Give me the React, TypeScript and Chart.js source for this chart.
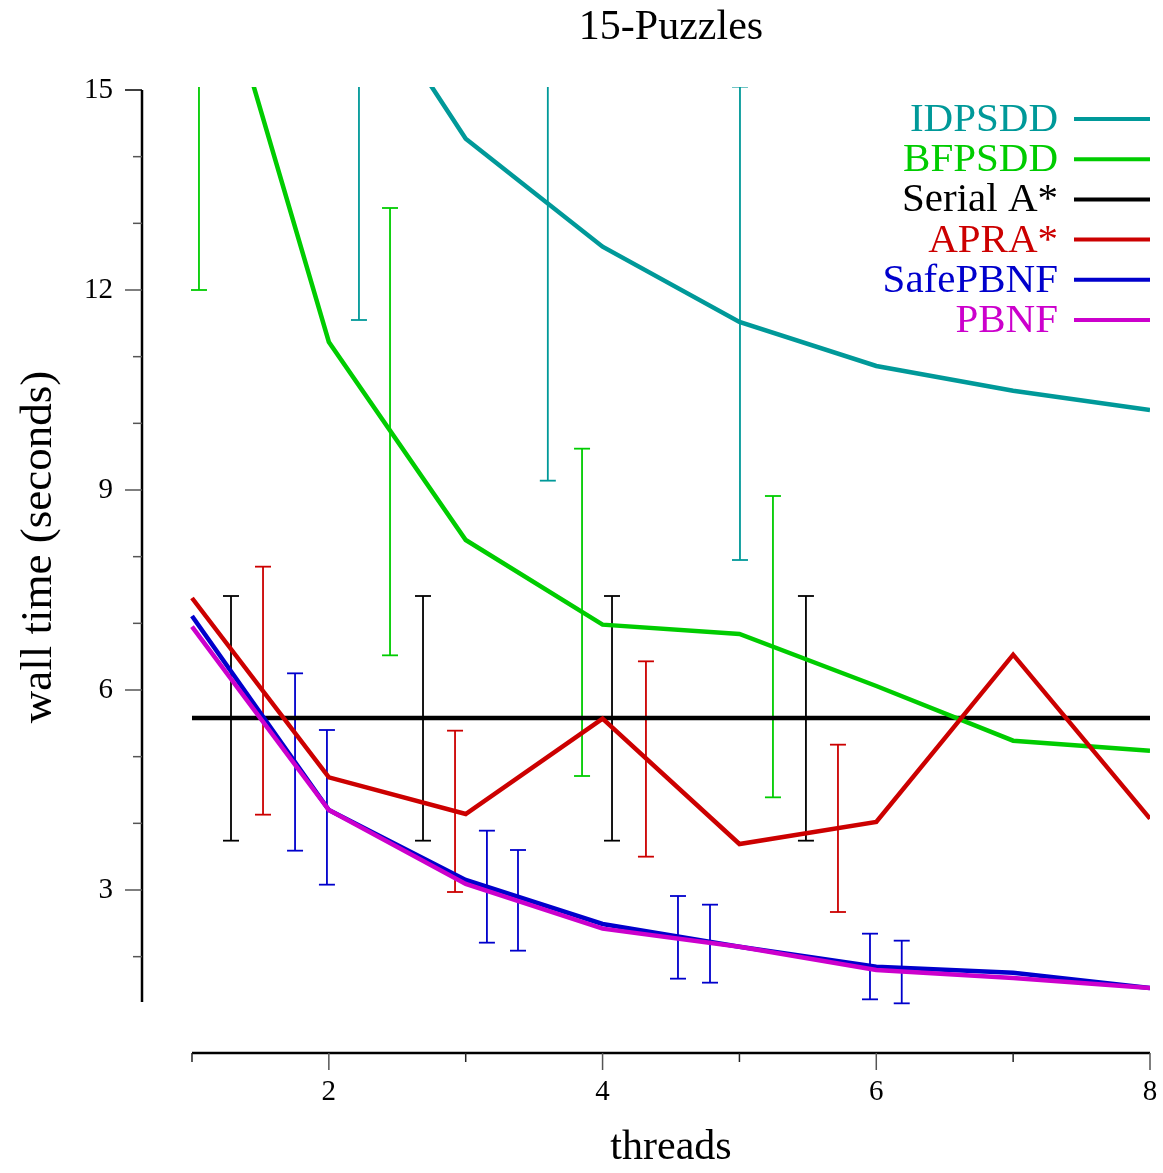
import React, { useEffect, useRef } from 'react';
import { Chart, registerables } from 'chart.js';

Chart.register(...registerables);

// ---------- data ----------
const chartTitle = '15-Puzzles';
const xTitle = 'threads';
const yTitle = 'wall time (seconds)';

const threads = [1, 2, 3, 4, 5, 6, 7, 8];
const idpsdd = [26, 17.4, 14.27, 12.65, 11.52, 10.86, 10.49, 10.2];
const bfpsdd = [18.2, 11.22, 8.25, 6.98, 6.84, 6.06, 5.24, 5.09];
const serialAStar = [5.58, 5.58, 5.58, 5.58, 5.58, 5.58, 5.58, 5.58];
const apraStar = [7.38, 4.69, 4.14, 5.57, 3.69, 4.02, 6.53, 4.07];
const safePbnf = [7.11, 4.2, 3.15, 2.49, 2.15, 1.85, 1.76, 1.53];
const pbnf = [6.95, 4.2, 3.09, 2.42, 2.15, 1.8, 1.68, 1.53];

// error bars: x position, low, high
const errBfX = [1.051, 2.447, 3.85, 5.245];
const errBfLo = [12.0, 6.52, 4.71, 4.39];
const errBfHi = [20, 13.23, 9.62, 8.91];

const errSerialX = [1.285, 2.688, 4.069, 5.486];
const errSerialLo = [3.74, 3.74, 3.74, 3.74];
const errSerialHi = [7.41, 7.41, 7.41, 7.41];

const errApraX = [1.519, 2.922, 4.317, 5.72];
const errApraLo = [4.13, 2.97, 3.5, 2.67];
const errApraHi = [7.85, 5.39, 6.43, 5.18];

const errSafeX = [1.753, 3.155, 4.551, 5.954];
const errSafeLo = [3.59, 2.21, 1.67, 1.36];
const errSafeHi = [6.25, 3.89, 2.91, 2.345];

const errPbnfX = [1.986, 3.382, 4.785, 6.186];
const errPbnfLo = [3.08, 2.09, 1.61, 1.3];
const errPbnfHi = [5.4, 3.6, 2.78, 2.24];

const errIdpX = [2.22, 3.6, 5.004];
const errIdpLo = [11.55, 9.14, 7.95];
const errIdpHi = [21, 17.5, 15.05];

const yTicks = [3, 6, 9, 12, 15];
const yMinorTicks = [2, 4, 5, 7, 8, 10, 11, 13, 14];
const xTicks = [2, 4, 6, 8];
const xMinorTicks = [1, 3, 5, 7];
const yAxisTop = 15;
const yAxisBottom = 1.32;

const legendOrder = ['IDPSDD', 'BFPSDD', 'Serial A*', 'APRA*', 'SafePBNF', 'PBNF'];

const C_TEAL = '#009999';
const C_GREEN = '#00cc00';
const C_BLACK = '#000000';
const C_RED = '#cc0000';
const C_BLUE = '#0000cc';
const C_MAGENTA = '#cc00cc';

const FONT = "'Liberation Serif', 'Times New Roman', serif";

function series(ys: number[]) {
  return threads.map((x, i) => ({ x, y: ys[i] }));
}

function errData(xs: number[], lo: number[], hi: number[]) {
  const out: any[] = [];
  xs.forEach((x, i) => {
    out.push({ x, y: lo[i] }, { x, y: hi[i] }, { x, y: null });
  });
  return out;
}

function lineDs(label: string, ys: number[], color: string, order: number) {
  return {
    label,
    data: series(ys),
    borderColor: color,
    backgroundColor: color,
    borderWidth: 4.5,
    pointRadius: 0,
    pointHoverRadius: 0,
    tension: 0,
    fill: false,
    order,
    isMain: true,
  };
}

function errDs(label: string, xs: number[], lo: number[], hi: number[], color: string) {
  return {
    label,
    data: errData(xs, lo, hi),
    borderColor: color,
    backgroundColor: color,
    borderWidth: 1.8,
    pointStyle: 'line',
    pointRadius: 8,
    pointHoverRadius: 8,
    pointBorderWidth: 1.8,
    pointBorderColor: color,
    spanGaps: false,
    tension: 0,
    fill: false,
    order: 100,
    isMain: false,
  };
}

const axesPlugin = {
  id: 'customAxes',
  beforeDatasetsDraw(chart: any) {
    const { ctx, scales } = chart;
    const xs = scales.x;
    const ys = scales.y;
    const ax = chart.chartArea.left;
    const ay = chart.chartArea.bottom;
    ctx.save();
    // y axis line
    ctx.strokeStyle = '#000';
    ctx.lineWidth = 2.5;
    ctx.beginPath();
    ctx.moveTo(ax, ys.getPixelForValue(yAxisTop));
    ctx.lineTo(ax, ys.getPixelForValue(yAxisBottom));
    ctx.stroke();
    // y ticks
    ctx.lineWidth = 1.5;
    yTicks.forEach((v) => {
      const p = ys.getPixelForValue(v);
      ctx.strokeStyle = v === yAxisTop ? '#000' : '#555';
      ctx.beginPath();
      ctx.moveTo(ax - 17, p);
      ctx.lineTo(ax, p);
      ctx.stroke();
    });
    ctx.strokeStyle = '#555';
    yMinorTicks.forEach((v) => {
      const p = ys.getPixelForValue(v);
      ctx.beginPath();
      ctx.moveTo(ax - 9, p);
      ctx.lineTo(ax, p);
      ctx.stroke();
    });
    // x axis line
    ctx.strokeStyle = '#000';
    ctx.lineWidth = 2.5;
    ctx.beginPath();
    ctx.moveTo(xs.getPixelForValue(1), ay);
    ctx.lineTo(xs.getPixelForValue(8), ay);
    ctx.stroke();
    ctx.lineWidth = 1.5;
    ctx.strokeStyle = '#555';
    xTicks.forEach((v) => {
      const p = xs.getPixelForValue(v);
      ctx.beginPath();
      ctx.moveTo(p, ay);
      ctx.lineTo(p, ay + 17);
      ctx.stroke();
    });
    ctx.strokeStyle = '#222';
    xMinorTicks.forEach((v) => {
      const p = xs.getPixelForValue(v);
      ctx.beginPath();
      ctx.moveTo(p, ay);
      ctx.lineTo(p, ay + 9);
      ctx.stroke();
    });
    ctx.restore();
  },
  afterDraw(chart: any) {
    const { ctx, scales } = chart;
    const xs = scales.x;
    const cx = (xs.getPixelForValue(1) + xs.getPixelForValue(8)) / 2;
    ctx.save();
    ctx.fillStyle = '#000';
    ctx.textAlign = 'center';
    ctx.textBaseline = 'alphabetic';
    // title
    ctx.font = `42px ${FONT}`;
    ctx.fillText(chartTitle, cx, 39);
    // x title
    ctx.font = `42px ${FONT}`;
    ctx.fillText(xTitle, cx, 1159);
    // y title
    ctx.save();
    ctx.translate(51, 547);
    ctx.rotate(-Math.PI / 2);
    ctx.font = `45px ${FONT}`;
    ctx.fillText(yTitle, 0, 0);
    ctx.restore();
    // legend
    ctx.font = `41px ${FONT}`;
    ctx.textAlign = 'right';
    legendOrder.forEach((label, i) => {
      const ds = chart.data.datasets.find((d: any) => d.isMain && d.label === label);
      if (!ds) return;
      const y = 119 + i * 40.2;
      ctx.fillStyle = ds.borderColor;
      ctx.fillText(label, 1058, y + 12);
      ctx.strokeStyle = ds.borderColor;
      ctx.lineWidth = 4;
      ctx.beginPath();
      ctx.moveTo(1074, y);
      ctx.lineTo(1150, y);
      ctx.stroke();
    });
    ctx.restore();
  },
};

function zeroPad(s: any) {
  s.paddingLeft = 0;
  s.paddingRight = 0;
  s.paddingTop = 0;
  s.paddingBottom = 0;
}

export default function App() {
  const ref = useRef<HTMLCanvasElement>(null);
  useEffect(() => {
    if (!ref.current) return;
    Chart.defaults.font.family = FONT;
    const chart = new Chart(ref.current, {
      type: 'line',
      data: {
        datasets: [
          errDs('BFPSDD err', errBfX, errBfLo, errBfHi, C_GREEN),
          errDs('Serial A* err', errSerialX, errSerialLo, errSerialHi, C_BLACK),
          errDs('APRA* err', errApraX, errApraLo, errApraHi, C_RED),
          errDs('SafePBNF err', errSafeX, errSafeLo, errSafeHi, C_BLUE),
          errDs('PBNF err', errPbnfX, errPbnfLo, errPbnfHi, C_BLUE),
          errDs('IDPSDD err', errIdpX, errIdpLo, errIdpHi, C_TEAL),
          lineDs('Serial A*', serialAStar, C_BLACK, 60),
          lineDs('IDPSDD', idpsdd, C_TEAL, 50),
          lineDs('BFPSDD', bfpsdd, C_GREEN, 40),
          lineDs('APRA*', apraStar, C_RED, 30),
          lineDs('SafePBNF', safePbnf, C_BLUE, 20),
          lineDs('PBNF', pbnf, C_MAGENTA, 10),
        ] as any,
      },
      options: {
        responsive: false,
        animation: false,
        events: [],
        devicePixelRatio: 1,
        layout: { padding: { left: 0, right: 13, top: 87, bottom: 0 } },
        plugins: {
          legend: { display: false },
          tooltip: { enabled: false },
          title: { display: false },
        },
        scales: {
          x: {
            type: 'linear',
            min: 0.6347,
            max: 8,
            grid: { display: false, drawTicks: false },
            border: { display: false },
            afterBuildTicks: (s: any) => {
              s.ticks = xTicks.map((v) => ({ value: v }));
            },
            afterFit: (s: any) => {
              s.height = 120;
              zeroPad(s);
            },
            ticks: {
              padding: 22,
              color: '#000',
              font: { size: 29, family: FONT },
              maxRotation: 0,
              autoSkip: false,
              callback: (v: any) => String(v),
            },
          },
          y: {
            type: 'linear',
            min: 0.555,
            max: 15.045,
            grid: { display: false, drawTicks: false },
            border: { display: false },
            afterBuildTicks: (s: any) => {
              s.ticks = yTicks.map((v) => ({ value: v }));
            },
            afterFit: (s: any) => {
              s.width = 142;
              zeroPad(s);
            },
            ticks: {
              padding: 29,
              color: '#000',
              font: { size: 29, family: FONT },
              autoSkip: false,
              callback: (v: any) => String(v),
            },
          },
        },
      } as any,
      plugins: [axesPlugin],
    });
    return () => chart.destroy();
  }, []);
  return (
    <div style={{ position: 'absolute', left: 0, top: 0, width: 1163, height: 1173, background: '#fff' }}>
      <canvas ref={ref} width={1163} height={1173} style={{ width: 1163, height: 1173, display: 'block' }} />
    </div>
  );
}
